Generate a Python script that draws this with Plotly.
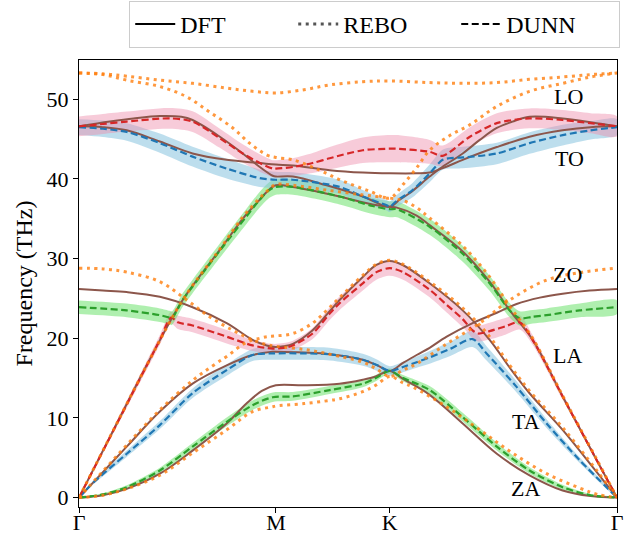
import numpy as np
import plotly.graph_objects as go

FONT = "Liberation Serif"

# high-symmetry path (units of 2*pi/a): Gamma - M - K - Gamma
PATH_TICKS = [0.0, 0.5774, 0.9107, 1.5774]
PATH_LABELS = ["Γ", "M", "K", "Γ"]
Y_TICKS = [0, 10, 20, 30, 40, 50]

# ---------------- DFT (solid brown) ----------------
dft_za_k = [0, 0.07, 0.14, 0.237, 0.333, 0.433, 0.491, 0.536, 0.577, 0.66, 0.764, 0.832, 0.87, 0.911, 0.95, 1.028, 1.125, 1.225, 1.321, 1.418, 1.50, 1.5774]
dft_za = [0, 0.3, 1.1, 3.0, 5.9, 9.3, 11.8, 13.4, 14.1, 14.1, 14.3, 14.8, 15.2, 15.9, 14.9, 12.9, 9.3, 5.5, 2.8, 0.9, 0.2, 0]

dft_b2_k = [0, 0.07, 0.14, 0.237, 0.333, 0.433, 0.509, 0.568, 0.577, 0.66, 0.735, 0.832, 0.875, 0.911, 0.95, 0.99, 1.028, 1.078, 1.154, 1.225, 1.283, 1.351, 1.418, 1.497, 1.5774]
dft_b2 = [0, 3.2, 6.4, 10.8, 14.3, 16.6, 17.9, 18.3, 18.3, 18.2, 18.0, 17.3, 16.6, 15.9, 16.9, 17.9, 18.8, 20.2, 21.9, 23.2, 24.3, 25.1, 25.6, 26.0, 26.2]

dft_b3_k = [0, 0.07, 0.14, 0.237, 0.333, 0.433, 0.509, 0.55, 0.577, 0.60, 0.627, 0.685, 0.735, 0.764, 0.832, 0.872, 0.911, 0.949, 1.028, 1.125, 1.204, 1.263, 1.321, 1.418, 1.518, 1.5774]
dft_b3 = [26.2, 26.0, 25.8, 25.2, 23.9, 21.9, 19.8, 19.1, 18.9, 19.0, 19.3, 21.0, 23.4, 24.8, 27.7, 29.2, 29.7, 29.2, 26.9, 23.5, 19.8, 16.3, 13.1, 8.5, 3.2, 0]

dft_la_k = [0, 0.1, 0.207, 0.304, 0.413, 0.48, 0.53, 0.551, 0.577, 0.627, 0.70, 0.764, 0.861, 0.911, 0.932, 0.99, 1.028, 1.125, 1.204, 1.263, 1.33, 1.418, 1.518, 1.5774]
dft_la = [0, 8.4, 17.3, 24.8, 31.1, 35.0, 37.4, 38.4, 39.2, 39.0, 38.4, 37.8, 36.8, 36.5, 36.4, 35.4, 34.2, 30.9, 27.1, 23.5, 19.8, 12.7, 4.7, 0]

dft_lo_k = [0, 0.09, 0.16, 0.237, 0.30, 0.333, 0.413, 0.48, 0.53, 0.568, 0.577, 0.627, 0.726, 0.832, 0.911, 0.94, 0.969, 1.028, 1.058, 1.125, 1.175, 1.225, 1.271, 1.321, 1.418, 1.518, 1.5774]
dft_lo = [46.6, 47.2, 47.6, 47.9, 47.8, 47.4, 45.3, 43.2, 41.5, 40.4, 40.3, 40.3, 39.2, 37.8, 36.5, 37.4, 38.2, 40.3, 41.3, 43.2, 44.9, 46.4, 47.2, 47.8, 47.6, 47.0, 46.6]

dft_to_k = [0, 0.07, 0.14, 0.237, 0.333, 0.433, 0.53, 0.577, 0.627, 0.735, 0.832, 0.911, 0.99, 1.028, 1.075, 1.125, 1.225, 1.321, 1.418, 1.50, 1.5774]
dft_to = [46.6, 46.5, 46.1, 44.7, 43.2, 42.4, 42.0, 41.8, 41.7, 41.1, 40.8, 40.7, 40.7, 40.8, 41.5, 42.4, 44.0, 45.3, 46.1, 46.5, 46.6]

# ---------------- REBO (dotted orange) ----------------
rebo_za_k = [0, 0.07, 0.14, 0.237, 0.333, 0.433, 0.509, 0.568, 0.577, 0.66, 0.735, 0.764, 0.832, 0.87, 0.911, 0.95, 0.978, 1.078, 1.175, 1.271, 1.371, 1.468, 1.52, 1.5774]
rebo_za = [0, 0.3, 1.1, 2.8, 5.6, 8.5, 10.8, 11.4, 11.5, 11.8, 12.2, 12.4, 13.3, 14.1, 15.2, 14.4, 13.9, 11.4, 8.5, 5.6, 3.0, 1.2, 0.4, 0]

rebo_b2_k = [0, 0.07, 0.14, 0.237, 0.316, 0.383, 0.451, 0.509, 0.55, 0.577, 0.66, 0.735, 0.832, 0.87, 0.911, 0.95, 0.99, 1.078, 1.175, 1.263, 1.371, 1.477, 1.5774]
rebo_b2 = [28.8, 28.7, 28.3, 27.1, 24.8, 22.7, 21.0, 19.8, 19.2, 19.0, 18.6, 18.0, 17.0, 16.2, 15.2, 16.0, 16.8, 19.3, 21.9, 24.8, 27.3, 28.3, 28.8]

rebo_b3_k = [0, 0.07, 0.14, 0.237, 0.333, 0.404, 0.433, 0.491, 0.53, 0.551, 0.577, 0.627, 0.685, 0.726, 0.764, 0.832, 0.872, 0.911, 0.949, 1.028, 1.125, 1.204, 1.263, 1.321, 1.418, 1.518, 1.5774]
rebo_b3 = [0, 3.3, 6.6, 11.0, 14.7, 16.9, 17.7, 19.5, 20.0, 20.2, 20.3, 20.6, 21.9, 23.5, 25.1, 27.9, 29.3, 29.8, 29.3, 27.1, 23.8, 20.2, 16.6, 13.4, 8.8, 3.4, 0]

rebo_la_k = [0, 0.1, 0.207, 0.304, 0.413, 0.48, 0.53, 0.555, 0.577, 0.627, 0.726, 0.832, 0.911, 0.95, 0.99, 1.028, 1.125, 1.204, 1.263, 1.33, 1.418, 1.518, 1.5774]
rebo_la = [0, 8.4, 17.3, 24.8, 31.2, 35.2, 37.6, 38.6, 39.3, 39.2, 38.6, 38.0, 37.6, 37.3, 36.4, 35.1, 31.6, 27.7, 24.0, 20.0, 12.8, 4.8, 0]

rebo_lo_k = [0, 0.07, 0.14, 0.237, 0.316, 0.383, 0.451, 0.50, 0.551, 0.577, 0.627, 0.70, 0.77, 0.85, 0.911, 0.95, 0.99, 1.028, 1.085, 1.146, 1.225, 1.321, 1.418, 1.50, 1.5774]
rebo_lo = [53.3, 53.1, 52.4, 51.6, 50.3, 48.4, 46.4, 44.5, 43.0, 42.7, 42.4, 41.2, 39.8, 38.5, 37.6, 39.3, 41.4, 43.6, 45.4, 46.8, 49.1, 51.0, 52.0, 52.8, 53.3]

rebo_to_k = [0, 0.07, 0.14, 0.237, 0.333, 0.433, 0.509, 0.577, 0.66, 0.735, 0.832, 0.911, 1.028, 1.125, 1.225, 1.321, 1.418, 1.50, 1.5774]
rebo_to = [53.3, 53.2, 52.9, 52.4, 52.0, 51.4, 51.0, 50.8, 51.2, 51.8, 52.2, 52.3, 52.1, 52.0, 52.1, 52.5, 52.8, 53.1, 53.3]

# ---------------- DUNN (dashed, band-ordered, with uncertainty) ----------------
d1_k = [0, 0.07, 0.14, 0.237, 0.333, 0.433, 0.509, 0.568, 0.627, 0.735, 0.832, 0.87, 0.911, 0.95, 1.028, 1.125, 1.225, 1.321, 1.418, 1.50, 1.5774]
d1 = [0, 0.4, 1.3, 3.4, 6.4, 9.5, 11.6, 12.6, 12.7, 13.5, 14.3, 15.0, 15.9, 15.0, 13.5, 10.1, 6.4, 3.4, 1.3, 0.3, 0]
d1_w = [0.05, 0.15, 0.25, 0.35, 0.45, 0.55, 0.6, 0.6, 0.55, 0.5, 0.45, 0.4, 0.35, 0.4, 0.5, 0.55, 0.5, 0.4, 0.3, 0.15, 0.05]

d2_k = [0, 0.04, 0.14, 0.237, 0.333, 0.433, 0.509, 0.568, 0.66, 0.735, 0.832, 0.875, 0.911, 0.95, 0.99, 1.028, 1.09, 1.154, 1.195, 1.283, 1.371, 1.468, 1.5774]
d2 = [0, 1.8, 5.5, 9.1, 13.1, 16.0, 17.9, 18.1, 18.1, 18.0, 17.3, 16.6, 15.9, 16.4, 17.0, 17.6, 18.7, 19.9, 18.1, 13.9, 9.3, 4.7, 0]
d2_w = [0.05, 0.2, 0.4, 0.5, 0.6, 0.7, 0.75, 0.8, 0.8, 0.8, 0.75, 0.7, 0.6, 0.65, 0.7, 0.8, 0.9, 1.0, 0.9, 0.7, 0.55, 0.35, 0.05]

d3_k = [0, 0.1, 0.237, 0.27, 0.29, 0.333, 0.433, 0.509, 0.568, 0.60, 0.627, 0.685, 0.735, 0.764, 0.832, 0.872, 0.911, 0.95, 1.028, 1.078, 1.125, 1.154, 1.17, 1.204, 1.25, 1.292, 1.33, 1.418, 1.518, 1.5774]
d3 = [0, 8.35, 19.8, 22.6, 22.0, 21.6, 20.2, 19.1, 18.7, 18.8, 19.1, 20.6, 23.1, 24.4, 26.9, 28.3, 28.8, 28.3, 26.1, 24.2, 22.4, 21.0, 20.6, 20.9, 21.5, 22.0, 19.8, 12.7, 4.7, 0]
d3_w = [0.05, 0.35, 0.6, 0.75, 0.85, 0.85, 0.85, 0.7, 0.6, 0.6, 0.6, 0.7, 0.8, 0.85, 0.9, 0.95, 0.95, 0.95, 0.95, 0.95, 1.0, 1.0, 1.0, 1.05, 1.05, 0.9, 0.6, 0.4, 0.2, 0.05]

d4_k = [0, 0.14, 0.237, 0.266, 0.272, 0.304, 0.333, 0.413, 0.491, 0.53, 0.555, 0.577, 0.627, 0.764, 0.861, 0.911, 0.932, 1.028, 1.125, 1.204, 1.263, 1.292, 1.33, 1.371, 1.468, 1.5774]
d4 = [23.9, 23.5, 22.9, 22.6, 22.5, 24.8, 26.5, 31.0, 35.3, 37.4, 38.5, 39.0, 39.0, 37.8, 36.6, 36.2, 36.2, 34.0, 30.6, 26.9, 23.5, 22.5, 22.7, 22.9, 23.5, 23.9]
d4_w = [0.85, 0.85, 0.85, 0.85, 0.85, 0.85, 0.85, 0.9, 0.95, 1.0, 1.0, 1.0, 1.0, 1.0, 1.0, 1.0, 1.0, 1.0, 1.0, 0.95, 0.9, 0.9, 0.85, 0.85, 0.85, 0.85]

d5_k = [0, 0.07, 0.14, 0.237, 0.333, 0.433, 0.53, 0.577, 0.627, 0.764, 0.832, 0.875, 0.902, 0.911, 0.93, 0.978, 1.028, 1.066, 1.085, 1.125, 1.225, 1.321, 1.418, 1.50, 1.5774]
d5 = [46.5, 46.3, 45.9, 44.5, 42.8, 41.3, 40.1, 39.9, 39.9, 39.0, 37.8, 37.1, 36.7, 36.5, 37.2, 38.6, 40.7, 42.4, 42.6, 42.7, 43.2, 44.5, 45.5, 46.1, 46.5]
d5_w = [1.0, 1.05, 1.1, 1.2, 1.25, 1.25, 1.1, 1.0, 0.95, 0.9, 0.8, 0.7, 0.65, 0.65, 0.75, 0.9, 1.1, 1.25, 1.3, 1.35, 1.35, 1.35, 1.3, 1.15, 1.0]

d6_k = [0, 0.07, 0.14, 0.266, 0.333, 0.413, 0.48, 0.53, 0.568, 0.577, 0.627, 0.685, 0.735, 0.832, 0.911, 0.932, 1.028, 1.066, 1.146, 1.225, 1.321, 1.418, 1.50, 1.5774]
d6 = [46.6, 46.9, 47.2, 47.6, 47.2, 45.1, 43.2, 42.0, 41.3, 41.3, 41.5, 42.0, 42.6, 43.6, 43.8, 43.8, 43.4, 42.9, 45.3, 47.0, 47.6, 47.4, 47.0, 46.6]
d6_w = [1.25, 1.25, 1.25, 1.3, 1.3, 1.2, 1.15, 1.1, 1.05, 1.05, 1.1, 1.25, 1.4, 1.6, 1.7, 1.7, 1.5, 1.3, 1.2, 1.25, 1.25, 1.25, 1.25, 1.25]

LINE_COLORS = ["#2ca02c", "#1f77b4", "#d62728", "#2ca02c", "#1f77b4", "#d62728"]
FILL_COLORS = ["rgba(110,225,110,0.55)", "rgba(135,195,222,0.55)", "rgba(238,140,170,0.45)",
               "rgba(110,225,110,0.55)", "rgba(135,195,222,0.55)", "rgba(238,140,170,0.45)"]

dft = [(dft_za_k, dft_za), (dft_b2_k, dft_b2), (dft_b3_k, dft_b3),
       (dft_la_k, dft_la), (dft_lo_k, dft_lo), (dft_to_k, dft_to)]
rebo = [(rebo_za_k, rebo_za), (rebo_b2_k, rebo_b2), (rebo_b3_k, rebo_b3),
        (rebo_la_k, rebo_la), (rebo_lo_k, rebo_lo), (rebo_to_k, rebo_to)]
dunn = [(d1_k, d1, d1_w), (d2_k, d2, d2_w), (d3_k, d3, d3_w),
        (d4_k, d4, d4_w), (d5_k, d5, d5_w), (d6_k, d6, d6_w)]

fig = go.Figure()

# uncertainty bands
for (k, v, w), fc in zip(dunn, FILL_COLORS):
    k = np.array(k); v = np.array(v); w = np.array(w)
    fig.add_trace(go.Scatter(
        x=np.concatenate([k, k[::-1]]),
        y=np.concatenate([v + w, (v - w)[::-1]]),
        fill="toself", fillcolor=fc, mode="lines",
        line=dict(width=0, shape="spline", smoothing=0.8),
        hoverinfo="skip", showlegend=False))

for k, v in dft:
    fig.add_trace(go.Scatter(x=k, y=v, mode="lines",
                             line=dict(color="#8c564b", width=2, shape="spline", smoothing=1.0),
                             showlegend=False))

for (k, v, w), lc in zip(dunn, LINE_COLORS):
    fig.add_trace(go.Scatter(x=k, y=v, mode="lines",
                             line=dict(color=lc, width=2.2, dash="7px,3.5px", shape="spline", smoothing=0.8),
                             showlegend=False))

for k, v in rebo:
    fig.add_trace(go.Scatter(x=k, y=v, mode="lines", opacity=0.8,
                             line=dict(color="#ff7f0e", width=3, dash="3px,4.5px", shape="spline", smoothing=1.0),
                             showlegend=False))

# legend entries
fig.add_trace(go.Scatter(x=[None], y=[None], mode="lines", name="DFT",
                         line=dict(color="black", width=2)))
fig.add_trace(go.Scatter(x=[None], y=[None], mode="lines", name="REBO",
                         line=dict(color="#555555", width=3, dash="3px,4.5px")))
fig.add_trace(go.Scatter(x=[None], y=[None], mode="lines", name="DUNN",
                         line=dict(color="black", width=2, dash="7px,3.5px")))

# branch labels
BRANCH_NAMES = ["LO", "TO", "ZO", "LA", "TA", "ZA"]
BRANCH_K = [1.436, 1.439, 1.433, 1.433, 1.312, 1.310]
BRANCH_F = [50.3, 42.6, 28.05, 17.9, 9.5, 1.2]
for name, kx, fy in zip(BRANCH_NAMES, BRANCH_K, BRANCH_F):
    fig.add_annotation(x=kx, y=fy, text=name, showarrow=False,
                       font=dict(family=FONT, size=22, color="black"),
                       xanchor="center", yanchor="middle")

fig.update_layout(
    width=633, height=534,
    margin=dict(l=79, r=16, t=60, b=27, autoexpand=False),
    paper_bgcolor="white", plot_bgcolor="white",
    font=dict(family=FONT, size=22, color="black"),
    legend=dict(orientation="h", x=1.006, xanchor="right", y=1.027, yanchor="bottom",
                bordercolor="#cccccc", borderwidth=1, bgcolor="white",
                font=dict(family=FONT, size=24), itemwidth=40,
                entrywidth=108, entrywidthmode="pixels"),
)
fig.update_xaxes(range=[PATH_TICKS[0], PATH_TICKS[-1]], tickvals=PATH_TICKS, ticktext=PATH_LABELS,
                 showgrid=False, zeroline=False, showline=True, linecolor="black", linewidth=1,
                 mirror=True, ticks="outside", ticklen=5, tickcolor="black",
                 tickfont=dict(family=FONT, size=22), automargin=False,
                 ticklabelstandoff=-9)
fig.update_yaxes(range=[-1.18, 54.93], tickvals=Y_TICKS,
                 showgrid=False, zeroline=False, showline=True, linecolor="black", linewidth=1,
                 mirror=True, ticks="outside", ticklen=5, tickcolor="black",
                 tickfont=dict(family=FONT, size=22), automargin=False,
                 title=dict(text="Frequency (THz)", font=dict(family=FONT, size=24), standoff=7))

fig.write_html("out.html", config={"displayModeBar": False},
               post_script="document.body.style.margin='0';document.body.style.overflow='hidden';")
